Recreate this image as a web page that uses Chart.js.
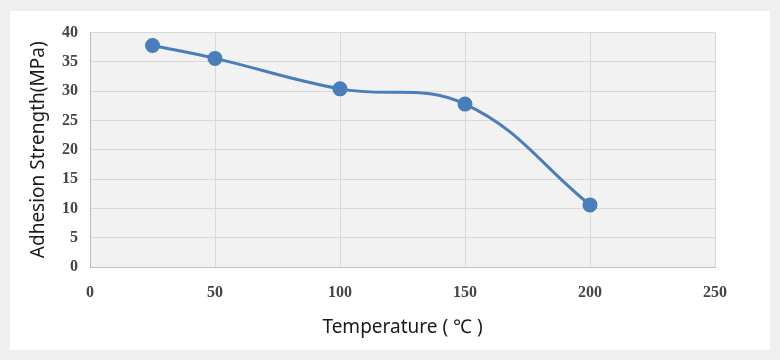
<!doctype html>
<html lang="en">
  <head>
    <meta charset="utf-8">
    <title>Adhesion Strength vs Temperature</title>
    <style>
      * {
        margin: 0;
        padding: 0;
      }
      body {
        width: 780px;
        height: 360px;
        background: #efefef;
        position: relative;
        overflow: hidden;
      }
      .chartBox {
        position: absolute;
        left: 10px;
        top: 11px;
        width: 760px;
        height: 339px;
        background: white;
      }
    </style>
  </head>
  <body>
    <div class="chartBox">
      <canvas id="myChart" width="760" height="339"></canvas>
    </div>
    <script src="https://cdn.jsdelivr.net/npm/chart.js"></script>
    <script>
    // data
    const temperatures = [25, 50, 100, 150, 200];
    const strength = [37.8, 35.6, 30.4, 27.8, 10.6];
    const xTitle = 'Temperature ( \u2103 )';
    const yTitle = 'Adhesion Strength(MPa)';

    const points = temperatures.map((t, i) => ({ x: t, y: strength[i] }));

    // plot area background
    const plotBg = {
      id: 'plotBg',
      beforeDraw(chart) {
        const { ctx, chartArea: a } = chart;
        ctx.save();
        ctx.fillStyle = '#f2f2f2';
        ctx.fillRect(a.left, a.top, a.right - a.left, a.bottom - a.top);
        ctx.restore();
      }
    };

    const tickFont = { family: "'Liberation Serif', 'Times New Roman', serif", size: 16, weight: 'bold' };
    const titleFont = { family: "'Noto Sans', 'DejaVu Sans', sans-serif", size: 19 };

    const config = {
      type: 'scatter',
      data: {
        datasets: [{
          data: points,
          showLine: true,
          borderColor: '#4a7ebb',
          backgroundColor: '#4a7ebb',
          borderWidth: 3,
          pointRadius: 6,
          pointHoverRadius: 6,
          tension: 0.4
        }]
      },
      options: {
        responsive: false,
        animation: false,
        layout: { padding: { left: 0, top: 19, right: 55, bottom: 0 } },
        plugins: {
          legend: { display: false },
          tooltip: { enabled: false }
        },
        scales: {
          x: {
            type: 'linear',
            min: 0,
            max: 250,
            ticks: { stepSize: 50, color: '#454545', font: tickFont, padding: 16 },
            grid: { color: '#d9d9d9', drawTicks: false },
            border: { color: '#bfbfbf' },
            title: { display: true, text: xTitle, color: '#1a1a1a', font: titleFont, padding: { top: 0, bottom: 11 } },
            afterFit(scale) { scale.height = 83; }
          },
          y: {
            min: 0,
            max: 40,
            ticks: { stepSize: 5, color: '#454545', font: tickFont, padding: 12 },
            grid: { color: '#d9d9d9', drawTicks: false },
            border: { color: '#bfbfbf' },
            title: { display: true, text: yTitle, color: '#1a1a1a', font: titleFont, padding: { top: 17, bottom: 0 } },
            afterFit(scale) { scale.width = 80; }
          }
        }
      },
      plugins: [plotBg]
    };

    const myChart = new Chart(document.getElementById('myChart'), config);
    </script>
  </body>
</html>
